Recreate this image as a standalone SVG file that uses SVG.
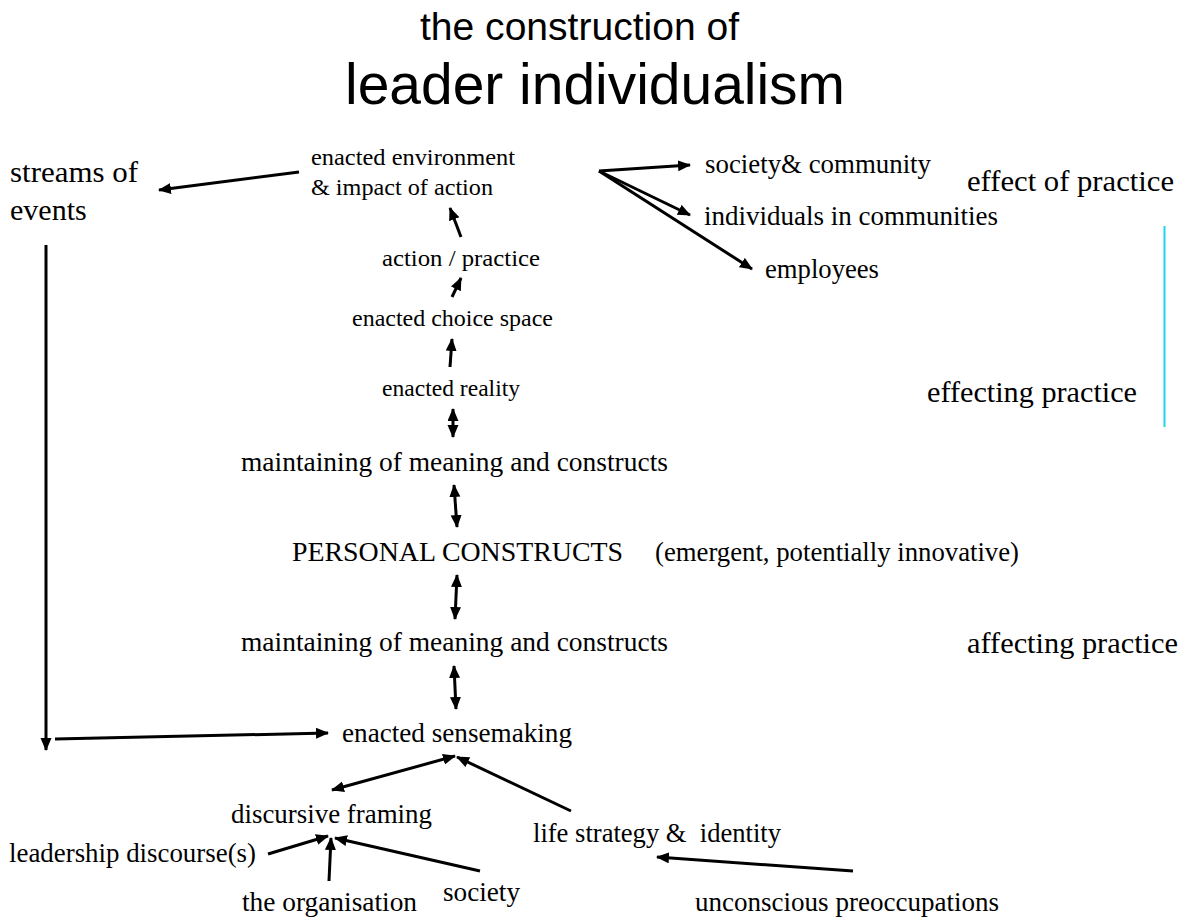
<svg xmlns="http://www.w3.org/2000/svg" width="1188" height="920" viewBox="0 0 1188 920">
<style>
  text { fill: #000; }
  .title { font-family: "Liberation Sans", Arial, sans-serif; }
  .lbl { font-family: "Liberation Serif", "Times New Roman", serif; }
  .sm { font-size: 24px; }
  .md { font-size: 27px; }
  .lg { font-size: 30px; }
  .conn line { stroke: #000; stroke-width: 3; fill: none; }
  .one { marker-end: url(#ah); }
  .two { marker-start: url(#ahs); marker-end: url(#ah); }
</style>
<defs>
  <marker id="ah" markerUnits="userSpaceOnUse" markerWidth="14" markerHeight="12" refX="12" refY="5.5" orient="auto">
    <path d="M0,0 L13,5.5 L0,11 z" fill="#000"/>
  </marker>
  <marker id="ahs" markerUnits="userSpaceOnUse" markerWidth="14" markerHeight="12" refX="12" refY="5.5" orient="auto-start-reverse">
    <path d="M0,0 L13,5.5 L0,11 z" fill="#000"/>
  </marker>
</defs>
<rect width="1188" height="920" fill="#fff"/>

<g id="title">
  <text class="title" x="420" y="40" font-size="39" textLength="319" lengthAdjust="spacingAndGlyphs">the construction of</text>
  <text class="title" x="345" y="104" font-size="57" textLength="500" lengthAdjust="spacingAndGlyphs">leader individualism</text>
</g>

<g id="streams">
  <text class="lbl lg" x="10" y="182" textLength="128" lengthAdjust="spacingAndGlyphs">streams of</text>
  <text class="lbl lg" x="10" y="220">events</text>
</g>
<g id="enacted-environment">
  <text class="lbl sm" x="311" y="165" textLength="204" lengthAdjust="spacingAndGlyphs">enacted environment</text>
  <text class="lbl sm" x="311" y="195" textLength="182" lengthAdjust="spacingAndGlyphs">&amp; impact of action</text>
</g>
<g id="society-community"><text class="lbl md" x="705" y="173" textLength="226" lengthAdjust="spacingAndGlyphs">society&amp; community</text></g>
<g id="individuals"><text class="lbl md" x="704" y="225" textLength="294" lengthAdjust="spacingAndGlyphs">individuals in communities</text></g>
<g id="employees"><text class="lbl md" x="765" y="278" textLength="114" lengthAdjust="spacingAndGlyphs">employees</text></g>
<g id="effect-of-practice"><text class="lbl lg" x="967" y="191" textLength="207" lengthAdjust="spacingAndGlyphs">effect of practice</text></g>
<g id="effecting-practice"><text class="lbl lg" x="927" y="402" textLength="210" lengthAdjust="spacingAndGlyphs">effecting practice</text></g>
<g id="affecting-practice"><text class="lbl lg" x="967" y="653" textLength="211" lengthAdjust="spacingAndGlyphs">affecting practice</text></g>

<g id="action-practice"><text class="lbl sm" x="382" y="266" textLength="158" lengthAdjust="spacingAndGlyphs">action / practice</text></g>
<g id="choice-space"><text class="lbl sm" x="352" y="326" textLength="201" lengthAdjust="spacingAndGlyphs">enacted choice space</text></g>
<g id="enacted-reality"><text class="lbl sm" x="382" y="396" textLength="138" lengthAdjust="spacingAndGlyphs">enacted reality</text></g>
<g id="maintaining-1"><text class="lbl md" x="241" y="471" textLength="427" lengthAdjust="spacingAndGlyphs">maintaining of meaning and constructs</text></g>
<g id="personal-constructs">
  <text class="lbl md" x="292" y="561" textLength="331" lengthAdjust="spacingAndGlyphs">PERSONAL CONSTRUCTS</text>
  <text class="lbl md" x="655" y="561" textLength="364" lengthAdjust="spacingAndGlyphs">(emergent, potentially innovative)</text>
</g>
<g id="maintaining-2"><text class="lbl md" x="241" y="651" textLength="427" lengthAdjust="spacingAndGlyphs">maintaining of meaning and constructs</text></g>
<g id="enacted-sensemaking"><text class="lbl md" x="342" y="742" textLength="230" lengthAdjust="spacingAndGlyphs">enacted sensemaking</text></g>
<g id="discursive-framing"><text class="lbl md" x="231" y="823" textLength="201" lengthAdjust="spacingAndGlyphs">discursive framing</text></g>
<g id="life-strategy"><text class="lbl md" x="533" y="842" xml:space="preserve" textLength="248" lengthAdjust="spacingAndGlyphs">life strategy &amp;  identity</text></g>
<g id="leadership-discourse"><text class="lbl md" x="9" y="862" textLength="247" lengthAdjust="spacingAndGlyphs">leadership discourse(s)</text></g>
<g id="organisation"><text class="lbl md" x="242" y="911" textLength="175" lengthAdjust="spacingAndGlyphs">the organisation</text></g>
<g id="society"><text class="lbl md" x="443" y="901" textLength="77" lengthAdjust="spacingAndGlyphs">society</text></g>
<g id="unconscious"><text class="lbl md" x="695" y="911" textLength="304" lengthAdjust="spacingAndGlyphs">unconscious preoccupations</text></g>

<g id="bracket">
  <line x1="1164.5" y1="226" x2="1164.5" y2="427" stroke="#1fd5ee" stroke-width="2"/>
</g>

<g id="connectors" class="conn">
  <line class="one" x1="299" y1="172" x2="159" y2="190"/>
  <line class="one" x1="461" y1="237" x2="450" y2="208"/>
  <line class="one" x1="452" y1="297" x2="461" y2="278"/>
  <line class="one" x1="450" y1="367" x2="452" y2="339"/>
  <line class="two" x1="453" y1="409" x2="453" y2="437"/>
  <line class="two" x1="454" y1="485" x2="457" y2="527"/>
  <line class="two" x1="457" y1="575" x2="455" y2="619"/>
  <line class="two" x1="454" y1="666" x2="456" y2="709"/>
  <line class="one" x1="599" y1="171" x2="690" y2="165"/>
  <line class="one" x1="599" y1="171" x2="690" y2="215"/>
  <line class="one" x1="599" y1="171" x2="752" y2="269"/>
  <line class="one" x1="46" y1="245" x2="46" y2="750"/>
  <line class="one" x1="55" y1="739" x2="328" y2="733"/>
  <line class="two" x1="332" y1="790" x2="455" y2="756"/>
  <line class="one" x1="571" y1="811" x2="457" y2="757"/>
  <line class="one" x1="268" y1="854" x2="328" y2="836"/>
  <line class="one" x1="329" y1="881" x2="331" y2="838"/>
  <line class="one" x1="480" y1="871" x2="335" y2="838"/>
  <line class="one" x1="853" y1="871" x2="657" y2="857"/>
</g>
</svg>
